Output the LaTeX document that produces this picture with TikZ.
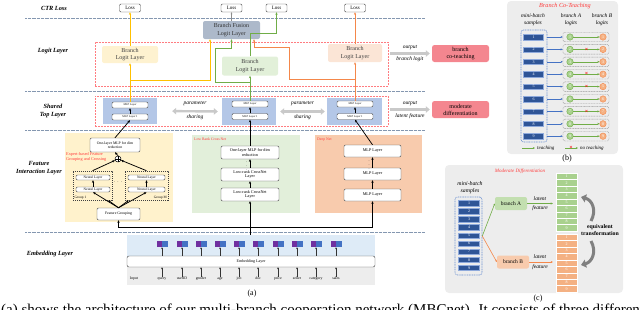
\documentclass[tikz,border=0pt]{standalone}
\usepackage{fontspec}
\setmainfont{Liberation Serif}
\usetikzlibrary{arrows.meta,calc}
\definecolor{cYp}{HTML}{FFF2CC}
\definecolor{cGp}{HTML}{E2EFDA}
\definecolor{cOp}{HTML}{F8CBAD}
\definecolor{cLy}{HTML}{FEF2D0}
\definecolor{cLg}{HTML}{E2F0D9}
\definecolor{cLo}{HTML}{FBE5D6}
\definecolor{cFus}{HTML}{ADB9CA}
\definecolor{cBlu}{HTML}{B4C7E7}
\definecolor{cPink}{HTML}{F4868F}
\definecolor{cRedD}{HTML}{FF7C80}
\definecolor{cYl}{HTML}{FFC000}
\definecolor{cGl}{HTML}{70AD47}
\definecolor{cOl}{HTML}{F4874A}
\definecolor{cPanel}{HTML}{EDEDED}
\definecolor{cEmb}{HTML}{DEEBF7}
\definecolor{cPur}{HTML}{7030A0}
\definecolor{cSq}{HTML}{4472C4}
\definecolor{cSmp}{HTML}{2F5597}
\definecolor{cSep}{HTML}{8497B0}
\definecolor{cRedT}{HTML}{FF3B3B}
\definecolor{cGc}{HTML}{A9D18E}
\definecolor{cOc}{HTML}{F4B183}
\definecolor{cArrG}{HTML}{C9C9C9}
\tikzset{
  lbl/.style={font=\fontsize{6.3}{8}\selectfont\bfseries\itshape, align=center, inner sep=0pt},
  wbox/.style={draw=black!70, fill=white, rounded corners=1.2pt, line width=0.45pt, inner sep=0pt, align=center, font=\fontsize{4}{4.6}\selectfont},
  lossbox/.style={wbox, font=\fontsize{5}{6}\selectfont, minimum width=21pt, minimum height=8pt},
  logitbox/.style={rounded corners=2pt, inner sep=0pt, align=center, font=\fontsize{6}{7.2}\selectfont, text=black!75, minimum width=56pt, minimum height=17pt},
  tinybox/.style={wbox, font=\fontsize{2.8}{3}\selectfont, minimum width=36pt, minimum height=6pt},
  nlbox/.style={wbox, font=\fontsize{3.5}{4}\selectfont, minimum height=5pt},
  redframe/.style={draw=cRedD, dash pattern=on 2pt off 1pt, line width=0.9pt, inner sep=0pt},
  sepline/.style={draw=cSep, line width=0.9pt, dash pattern=on 0.8pt off 0.5pt},
  tip/.style={-{Stealth[length=2.6pt,width=2.2pt]}},
  blk/.style={draw=black, line width=0.75pt, tip},
  thinarr/.style={draw=black!80, line width=0.5pt, -{Stealth[length=2pt,width=1.8pt]}},
  ylw/.style={draw=cYl, line width=0.8pt, tip},
  grn/.style={draw=cGl, line width=0.8pt, tip},
  org/.style={draw=cOl, line width=0.8pt, tip},
  gsh/.style={draw=cArrG, line width=2.4pt, {Triangle[length=4pt,width=6.5pt]}-{Triangle[length=4pt,width=6.5pt]}},
  gout/.style={draw=cArrG, line width=2.4pt, -{Triangle[length=4pt,width=6.5pt]}},
  pinkbox/.style={fill=cPink, rounded corners=2.5pt, minimum width=57pt, minimum height=17pt, inner sep=0pt, align=center, font=\fontsize{6}{7}\selectfont},
  itl/.style={font=\fontsize{5.5}{6.5}\selectfont\itshape, inner sep=0pt, align=center},
  redt/.style={text=cRedT, font=\fontsize{3.8}{4.4}\selectfont, inner sep=0pt, align=left},
  smp/.style={fill=cSmp, draw=cSq!60, line width=0.3pt, text=white, font=\fontsize{4}{4}\selectfont, minimum width=20pt, minimum height=5.5pt, inner sep=0pt},
  rowbox/.style={draw=black!40, dash pattern=on 1pt off 0.6pt, fill=black!7, rounded corners=1.5pt, minimum width=46pt, minimum height=9.5pt, inner sep=0pt},
  gcirc/.style={circle, fill=cGc, draw=cGl, line width=0.4pt, minimum size=6.5pt, inner sep=0pt, text=white, font=\fontsize{4}{4}\selectfont},
  ocirc/.style={circle, fill=cOc, draw=cOl, line width=0.4pt, minimum size=6.5pt, inner sep=0pt, text=white, font=\fontsize{4}{4}\selectfont},
  bluearr/.style={draw=cSq, line width=0.6pt, -{Stealth[length=2.2pt,width=2pt]}},
  grnarr/.style={draw=cGl, line width=0.6pt, -{Stealth[length=2.2pt,width=2pt]}},
  orgarr/.style={draw=cOl, line width=0.6pt, -{Stealth[length=2.2pt,width=2pt]}},
  xmk/.style={text=red, font=\fontsize{6}{6}\selectfont\bfseries, inner sep=0pt},
  gcell/.style={fill=cGc, draw=white, line width=0.3pt, minimum width=21pt, minimum height=6.45pt, inner sep=0pt, text=white, font=\fontsize{4}{4}\selectfont},
  ocell/.style={fill=cOc, draw=white, line width=0.3pt, minimum width=21pt, minimum height=6.45pt, inner sep=0pt, text=white, font=\fontsize{4}{4}\selectfont},
  brbox/.style={rounded corners=2pt, minimum width=32pt, minimum height=13pt, inner sep=0pt, font=\fontsize{5.5}{6}\selectfont},
  curv/.style={draw=black!50, line width=3pt, -{Triangle[length=5pt,width=8pt]}},
  sqpair/.style={minimum width=11pt, minimum height=6pt, fill=cSq, inner sep=0pt,
     path picture={\fill[cPur] (path picture bounding box.south west) rectangle (path picture bounding box.north);}},
  inlbl/.style={font=\fontsize{3.8}{4}\selectfont, inner sep=0pt, text height=2.8pt, text depth=0.9pt},
  dbox/.style={draw=cSq!80, dash pattern=on 1pt off 0.7pt, line width=0.6pt, rounded corners=2.5pt, inner sep=0pt},
  grpbox/.style={draw=black!75, dash pattern=on 1.2pt off 0.8pt, line width=0.6pt, inner sep=0pt},
  capt/.style={font=\fontsize{8}{9}\selectfont, inner sep=0pt}
}
\begin{document}
\begin{tikzpicture}[x=1pt,y=-1pt]
\useasboundingbox (0,0) rectangle (640,309);
\clip (0,0) rectangle (640,309);

% separators
\foreach \yy in {18,91,130,232} \draw[sepline] (25,\yy) -- (425,\yy);

% left labels
\node[lbl] (lctr) at (54,8) {CTR Loss};
\node[lbl] (llog) at (53,51) {Logit Layer};
\node[lbl] (lsh) at (53,111) {Shared\\Top Layer};
\node[lbl] (lfi) at (39,168) {Feature\\Interaction Layer};
\node[lbl] (lem) at (50,254) {Embedding Layer};

% frames
\node[redframe, minimum width=293pt, minimum height=44pt] (lf) at (241.5,64) {};
\node[redframe, minimum width=293pt, minimum height=30pt] (sf) at (241.5,111) {};

% loss boxes
\node[lossbox] (loss1) at (130,8) {Loss};
\node[lossbox] (loss2) at (231.5,8) {Loss};
\node[lossbox] (loss3) at (276.5,8) {Loss};
\node[lossbox] (loss4) at (355,8) {Loss};

% logit boxes
\node[logitbox, fill=cLy] (lg1) at (130,54.5) {Branch\\Logit Layer};
\node[logitbox, fill=cLg, minimum height=19pt] (lg2) at (250,66) {Branch\\Logit Layer};
\node[logitbox, fill=cLo, minimum width=54pt, minimum height=18pt] (lg3) at (355,53) {Branch\\Logit Layer};
\node[logitbox, fill=cFus, minimum width=57pt, minimum height=18pt, text=black!80] (fus) at (231.5,30) {Branch Fusion\\Logit Layer};

% shared top layer
\node[fill=cBlu, minimum width=54pt, minimum height=26pt, inner sep=0pt] (sb1) at (130,111) {};
\node[fill=cBlu, minimum width=54pt, minimum height=27pt, inner sep=0pt] (sb2) at (249,111.5) {};
\node[fill=cBlu, minimum width=55pt, minimum height=27pt, inner sep=0pt] (sb3) at (354.5,111.5) {};
\node[tinybox] (m1a) at (130,105) {MLP Layer};
\node[tinybox] (m1b) at (130,117) {MLP Layer 1};
\node[tinybox] (m2a) at (250,104) {MLP Layer};
\node[tinybox] (m2b) at (250,116.5) {MLP Layer 1};
\node[tinybox] (m3a) at (355,104) {MLP Layer};
\node[tinybox] (m3b) at (355,116.5) {MLP Layer 1};
\draw[blk] (m1b.north) -- (m1a.south);
\draw[blk] (m2b.north) -- (m2a.south);
\draw[blk] (m3b.north) -- (m3a.south);

% parameter sharing
\draw[gsh, shorten <=15pt, shorten >=4pt] (sb1.east) -- (sb2.west);
\draw[gsh, shorten <=4pt, shorten >=2pt] (sb2.east) -- (sb3.west);
\node[itl] (ps1a) at (195,104) {parameter};
\node[itl] (ps1b) at (195,117.5) {sharing};
\node[itl] (ps2a) at (302.5,104) {parameter};
\node[itl] (ps2b) at (302.5,117.5) {sharing};

% outputs
\node[pinkbox] (pk1) at (460.5,53.5) {branch\\co-teaching};
\node[pinkbox] (pk2) at (460.5,109.5) {moderate\\differentiation};
\draw[gout, shorten <=2pt, shorten >=2pt] (lf.east |- pk1.west) -- (pk1.west);
\draw[gout, shorten <=2pt, shorten >=2pt] (sf.east |- pk2.west) -- (pk2.west);
\node[itl] (o1a) at (410,48) {output};
\node[itl] (o1b) at (410,59.5) {branch logit};
\node[itl] (o2a) at (410,104) {output};
\node[itl] (o2b) at (410,116.5) {latent feature};

% coloured logit connections
\draw[ylw] (m1a.north) -- (lg1.south);
\draw[ylw] (lg1.north) -- (loss1.south);
\draw[ylw] (m1a.north |- 0,80) -- (210,80) -- (210,0 |- fus.south);
\draw[grn] (m2a.north) -- (lg2.south);
\draw[grn] (lg2.north) -- (250,33) -| (loss3.south);
\draw[grn] (m2a.north |- 0,82) -- (215,82) -- (215,48) -- (fus.south |- 0,48) -- (fus.south);
\draw[org] (m3a.north) -- (lg3.south);
\draw[org] (lg3.north) -- (loss4.south);
\draw[org] (m3a.north |- 0,79) -- (289,79) -- (289,47) -- (254,47) -- (254,0 |- fus.south);
\draw[draw=black!45, line width=0.5pt, -{Stealth[length=2pt,width=1.8pt]}] (fus.north) -- (loss2.south);

% ---- feature interaction: expert panel
\fill[cYp] (65,133) rectangle (173,222);
\node[wbox, font=\fontsize{3.8}{4.4}\selectfont, minimum width=50pt, minimum height=14pt] (fimlp) at (115,145) {One-layer MLP for dim\\reduction};
\node[redt, font=\fontsize{4.3}{5.2}\selectfont, anchor=west] (exl) at (66,157) {Expert-based Feature\\Grouping and Crossing};
\node[circle, draw=black, fill=white, line width=0.5pt, minimum size=6pt, inner sep=0pt] (op) at (118,159) {};
\draw[line width=0.5pt] (op.north) -- (op.south) (op.east) -- (op.west);
\node[grpbox, minimum width=39pt, minimum height=29pt] (g1) at (92.5,185.5) {};
\node[grpbox, minimum width=43pt, minimum height=29pt] (gM) at (146.5,185.5) {};
\node[nlbox, minimum width=34pt] (nl1a) at (93,177.5) {Neural Layer};
\node[nlbox, minimum width=34pt] (nl1b) at (93,189.5) {Neural Layer};
\node[nlbox, minimum width=37pt] (nlMa) at (146.5,177.5) {Neural Layer};
\node[nlbox, minimum width=37pt] (nlMb) at (146.5,189.5) {Neural Layer};
\node[font=\fontsize{3.5}{4}\selectfont, inner sep=0pt, anchor=west] (g1l) at (74.5,197.5) {Group 1};
\node[font=\fontsize{3.5}{4}\selectfont, inner sep=0pt, anchor=east] (gMl) at (167,197.5) {Group M};
\node[font=\fontsize{5}{5}\selectfont, inner sep=0pt] (gdots) at (118,182) {$\cdots$};
\node[wbox, font=\fontsize{3.8}{4.4}\selectfont, minimum width=43pt, minimum height=12pt] (fg) at (118.5,214) {Feature Grouping};
\draw[blk, line width=0.5pt] (nl1b.north) -- (nl1a.south);
\draw[blk, line width=0.5pt] (nlMb.north) -- (nlMa.south);
\draw[blk] (g1.north) -- (op);
\draw[blk] (gM.north) -- (op);
\draw[blk] (op.north) -- (fimlp.south);
\draw[blk] (fg.north) -- (nl1b.south);
\draw[blk] (fg.north) -- ([xshift=-4pt]g1.south east);
\draw[blk] (fg.north) -- (nlMb.south);
\draw[blk] (fg.north) -- ([xshift=4pt]gM.south west);

% ---- low rank cross net
\fill[cGp] (192,135) rectangle (300,213);
\node[redt, anchor=west] (lrt) at (194,139.5) {Low Rank Cross Net};
\node[wbox, font=\fontsize{4.2}{4.8}\selectfont, minimum width=58pt, minimum height=13pt] (lr1) at (250,152.5) {One-layer MLP for dim\\reduction};
\node[wbox, font=\fontsize{4.2}{4.8}\selectfont, minimum width=58pt, minimum height=13pt] (lr2) at (250,174.5) {Low-rank CrossNet\\Layer};
\node[wbox, font=\fontsize{4.2}{4.8}\selectfont, minimum width=58pt, minimum height=13pt] (lr3) at (250,194.5) {Low-rank CrossNet\\Layer};
\node[font=\fontsize{4}{4}\selectfont, inner sep=0pt] (lrd) at (246.5,163.5) {$\vdots$};

% ---- deep net
\fill[cOp] (315,135) rectangle (422,213);
\node[redt, anchor=west] (dnt) at (317,139.5) {Deep Net};
\node[wbox, font=\fontsize{4.2}{4.8}\selectfont, minimum width=57pt, minimum height=12pt] (dn1) at (372.5,151) {MLP Layer};
\node[wbox, font=\fontsize{4.2}{4.8}\selectfont, minimum width=57pt, minimum height=12pt] (dn2) at (372.5,174) {MLP Layer};
\node[wbox, font=\fontsize{4.2}{4.8}\selectfont, minimum width=57pt, minimum height=12pt] (dn3) at (372.5,195) {MLP Layer};
\node[font=\fontsize{4}{4}\selectfont, inner sep=0pt] (dnd) at (369,162.5) {$\vdots$};

% ---- embedding
\node[fill=cEmb, minimum width=248pt, minimum height=27pt, inner sep=0pt] (embp) at (251,248.5) {};
\node[fill=cPanel, minimum width=248pt, minimum height=23pt, inner sep=0pt] (embg) at (251,273.5) {};
\node[wbox, minimum width=248pt, minimum height=11pt, rounded corners=2pt] (embbox) at (251,261.5) {Embedding Layer};
\node[inlbl] (inp) at (134,279) {Input};
\foreach \xx/\lab [count=\i] in {162/query,182/userID,201/gender,220/age,239/job,258/doc,278/price,297/seller,316/category,336/sales}{
  \node[sqpair] (sq\i) at (\xx,244) {};
  \node[inlbl] (in\i) at (\xx,279) {\lab};
  \draw[thinarr] (sq\i.south |- embbox.north) -- (sq\i.south);
  \draw[thinarr] (in\i.north) -- (in\i.north |- embbox.south);
}
\node[capt] (cpa) at (252,294) {(a)};

% ---- black feature connections
\draw[blk] (fimlp.north) -- (m1b.south);
\draw[blk] (lr1.north) -- (m2b.south);
\draw[blk] (dn1.north) -- (m3b.south);
\draw[blk] (lr2.north) -- (lr1.south);
\draw[blk] (lr3.north) -- (lr2.south);
\draw[blk] (embp.north -| lr3.south) -- (lr3.south);
\draw[blk] (dn3.north) -- (dn2.south);
\draw[blk] (dn2.north) -- (dn1.south);
\coordinate (split) at (250,227);
\draw[blk] (split) -| (fg.south);
\draw[blk] (split) -| (dn3.south);

% ---- panel (b)
\fill[cPanel, rounded corners=4pt] (507,1) rectangle (618,154);
\node[itl, text=cRedT, font=\fontsize{6.2}{7}\selectfont\itshape] (bt) at (565,6) {Branch Co-Teaching};
\node[itl] (bh1) at (533,19.5) {mini-batch\\samples};
\node[itl] (bh2) at (571,19.5) {branch A\\logits};
\node[itl] (bh3) at (602,19.5) {branch B\\logits};
\node[dbox, minimum width=26pt, minimum height=112pt] (sbx) at (534,86) {};
\foreach \i in {1,...,9}{
  \pgfmathsetmacro\yy{37+(\i-1)*12.4}
  \node[smp] (s\i) at (533.5,\yy) {\i};
  \node[rowbox] (r\i) at (586,\yy) {};
  \node[gcirc] (ga\i) at (570,\yy) {\i};
  \node[ocirc] (gb\i) at (603,\yy) {\i};
  \draw[bluearr] (sbx.east |- s\i.east) -- (r\i.west);
  \draw[grnarr] (ga\i.east) -- (gb\i.west);
}
\foreach \i in {2,4,5,7} \node[xmk] at ($(ga\i.east)!0.5!(gb\i.west)$) {×};
\coordinate (lga) at (522,148);
\coordinate (lgb) at (535,148);
\draw[grnarr] (lga) -- (lgb);
\node[itl, font=\fontsize{5}{6}\selectfont\itshape, anchor=west] (lt1) at (537,148) {teaching};
\coordinate (lgc) at (565,148);
\coordinate (lgd) at (578,148);
\draw[grnarr] (lgc) -- (lgd);
\node[xmk] (lgx) at (571,148) {×};
\node[itl, font=\fontsize{5}{6}\selectfont\itshape, anchor=west] (lt2) at (580,148) {no teaching};
\node[capt] (cpb) at (567,159) {(b)};

% ---- panel (c)
\fill[cPanel, rounded corners=4pt] (445,165) rectangle (623,293);
\node[itl, text=cRedT, font=\fontsize{5}{6}\selectfont\itshape] (ct) at (520,171) {Moderate Differentiation};
\node[itl, font=\fontsize{5.8}{6.8}\selectfont\itshape] (ch) at (470,187.5) {mini-batch\\samples};
\node[dbox, minimum width=27pt, minimum height=78pt] (cbx) at (468.5,236) {};
\foreach \i in {1,...,9}{
  \pgfmathsetmacro\yy{203+(\i-1)*8.1}
  \node[smp, minimum width=21pt] (c\i) at (469,\yy) {\i};
}
\node[brbox, fill=cGc!70] (brA) at (511,203.5) {branch A};
\node[brbox, fill=cOp] (brB) at (513,262) {branch B};
\draw[grnarr] (cbx.east) -- (brA.west);
\draw[orgarr] (cbx.east) -- (brB.west);
\foreach \i in {1,...,9}{
  \pgfmathsetmacro\yy{173+(\i-0.5)*6.45}
  \node[gcell] (gs\i) at (566.5,\yy) {\i};
  \pgfmathsetmacro\yy{234+(\i-0.5)*6.45}
  \node[ocell] (os\i) at (566.5,\yy) {\i};
}
\draw[grnarr, shorten >=3pt] (brA.east) -- (brA.east -| gs1.west);
\draw[orgarr, shorten >=3pt] (brB.east) -- (brB.east -| os1.west);
\node[itl] (la1) at (540,198.5) {latent};
\node[itl] (la2) at (540,208.5) {feature};
\node[itl] (lb1) at (540,256.5) {latent};
\node[itl] (lb2) at (540,267.5) {feature};
\node[font=\fontsize{5.8}{7}\selectfont\bfseries, align=center, inner sep=0pt] (eq) at (600,230) {equivalent\\transformation};
\draw[curv] (591,221) .. controls (597,210) and (592,200) .. (581,197);
\draw[curv] (591,241) .. controls (597,252) and (592,262) .. (581,265);
\node[capt] (cpc) at (538,299) {(c)};

% ---- caption (cut by the page edge, as in the reference)
\node[anchor=base west, font=\fontsize{15}{17}\selectfont, inner sep=0pt] (cap) at (1,314) {(a) shows the architecture of our multi-branch cooperation network (MBCnet). It consists of three different};
\end{tikzpicture}
\end{document}
